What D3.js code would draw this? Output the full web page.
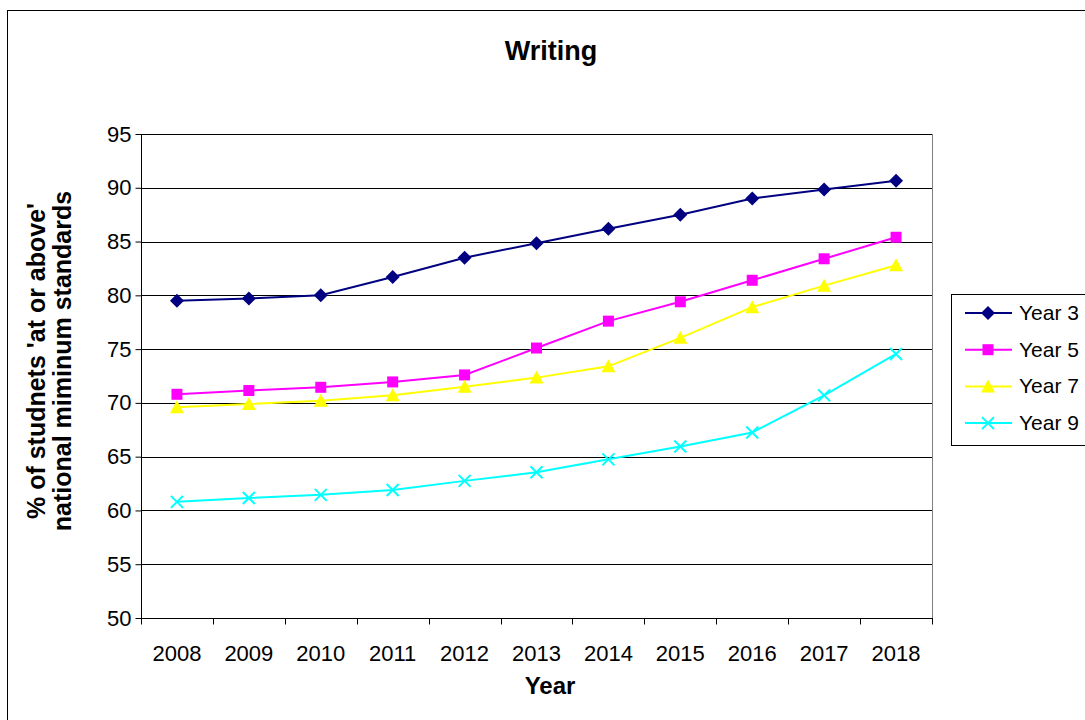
<!DOCTYPE html>
<html>
<head>
<meta charset="utf-8">
<script src="https://cdn.jsdelivr.net/npm/d3@7"></script>
<style>
  body { margin: 0; background: #fff; }
  text { font-family: "Liberation Sans", Arial, sans-serif; fill: #000; }
</style>
</head>
<body>
<div id="chart"></div>
<script>
// data
const years = ["2008", "2009", "2010", "2011", "2012", "2013", "2014", "2015", "2016", "2017", "2018"];
const year3 = [79.5, 79.7, 80.0, 81.7, 83.5, 84.85, 86.2, 87.5, 89.0, 89.85, 90.65];
const year5 = [70.8, 71.15, 71.45, 71.95, 72.6, 75.1, 77.6, 79.4, 81.4, 83.4, 85.4];
const year7 = [69.6, 69.9, 70.2, 70.7, 71.5, 72.35, 73.4, 76.05, 78.9, 80.9, 82.8];
const year9 = [60.8, 61.15, 61.45, 61.9, 62.75, 63.55, 64.75, 65.95, 67.25, 70.7, 74.55];
const yTicks = [50, 55, 60, 65, 70, 75, 80, 85, 90, 95];

const series = [
    { name: "Year 3", values: year3, color: "#000080", marker: "diamond" },
    { name: "Year 5", values: year5, color: "#FF00FF", marker: "square" },
    { name: "Year 7", values: year7, color: "#FFFF00", marker: "triangle" },
    { name: "Year 9", values: year9, color: "#00FFFF", marker: "cross" }
];

const W = 1085, H = 720;
const plot = { left: 141, top: 134, right: 932, bottom: 618 };

const svg = d3.select("#chart").append("svg")
    .attr("width", W)
    .attr("height", H);

// chart area frame
svg.append("rect")
    .attr("x", 7.5).attr("y", 10.5)
    .attr("width", W + 10).attr("height", H + 10)
    .attr("fill", "#fff")
    .attr("stroke", "#000");

// scales
const x = d3.scaleBand()
    .domain(years)
    .range([plot.left, plot.right]);

const y = d3.scaleLinear()
    .domain([50, 95])
    .range([plot.bottom, plot.top]);

// plot area border
svg.append("rect")
    .attr("x", plot.left + 0.5).attr("y", plot.top + 0.5)
    .attr("width", plot.right - plot.left).attr("height", plot.bottom - plot.top)
    .attr("fill", "none")
    .attr("stroke", "#808080");

// gridlines
svg.append("g")
    .selectAll("line")
    .data(yTicks.filter(d => d > 50))
    .join("line")
    .attr("x1", plot.left).attr("x2", plot.right)
    .attr("y1", d => Math.round(y(d)) + 0.5)
    .attr("y2", d => Math.round(y(d)) + 0.5)
    .attr("stroke", "#000")
    .attr("stroke-width", 1);

// y axis
const yAxis = d3.axisLeft(y)
    .tickValues(yTicks)
    .tickSize(6)
    .tickPadding(4);

const gy = svg.append("g")
    .attr("transform", `translate(${plot.left + 0.5},0)`)
    .call(yAxis);
gy.selectAll("text").style("font-size", "22px");
gy.selectAll("line, path").attr("stroke", "#000");
gy.select(".domain").attr("d", `M0,${plot.top}V${plot.bottom}`);

// x axis: ticks sit between categories
const gx = svg.append("g")
    .attr("transform", `translate(0,${plot.bottom + 0.5})`);

gx.append("line")
    .attr("x1", plot.left).attr("x2", plot.right + 1)
    .attr("stroke", "#000");

gx.selectAll(".tick-mark")
    .data(d3.range(years.length + 1))
    .join("line")
    .attr("class", "tick-mark")
    .attr("x1", i => Math.round(plot.left + i * x.step()) + 0.5)
    .attr("x2", i => Math.round(plot.left + i * x.step()) + 0.5)
    .attr("y1", 0).attr("y2", 6)
    .attr("stroke", "#000");

gx.selectAll(".tick-label")
    .data(years)
    .join("text")
    .attr("class", "tick-label")
    .attr("x", d => x(d) + x.bandwidth() / 2)
    .attr("y", 42)
    .attr("text-anchor", "middle")
    .style("font-size", "22px")
    .text(d => d);

// lines + markers
const line = d3.line()
    .x((d, i) => x(years[i]) + x.bandwidth() / 2)
    .y(d => y(d));

function drawMarker(g, type, color) {
    if (type === "diamond") {
        g.append("path").attr("d", "M0,-7L7,0L0,7L-7,0Z").attr("fill", color);
    } else if (type === "square") {
        g.append("rect").attr("x", -5.5).attr("y", -5.5).attr("width", 11).attr("height", 11).attr("fill", color);
    } else if (type === "triangle") {
        g.append("path").attr("d", "M0,-7L7,6L-7,6Z").attr("fill", color);
    } else {
        g.append("path").attr("d", "M-6,-6L6,6M-6,6L6,-6")
            .attr("stroke", color).attr("stroke-width", 2).attr("fill", "none");
    }
}

series.forEach(s => {
    svg.append("path")
        .datum(s.values)
        .attr("d", line)
        .attr("fill", "none")
        .attr("stroke", s.color)
        .attr("stroke-width", 2);

    svg.append("g")
        .selectAll("g")
        .data(s.values)
        .join("g")
        .attr("transform", (d, i) => `translate(${x(years[i]) + x.bandwidth() / 2},${y(d)})`)
        .each(function() { drawMarker(d3.select(this), s.marker, s.color); });
});

// title
svg.append("text")
    .attr("x", 551).attr("y", 60)
    .attr("text-anchor", "middle")
    .style("font-size", "27px")
    .style("font-weight", "bold")
    .text("Writing");

// axis titles
svg.append("text")
    .attr("x", 550).attr("y", 694)
    .attr("text-anchor", "middle")
    .style("font-size", "24px")
    .style("font-weight", "bold")
    .text("Year");

const yTitle = svg.append("text")
    .attr("transform", "translate(0,361) rotate(-90)")
    .attr("text-anchor", "middle")
    .style("font-size", "25px")
    .style("font-weight", "bold");
yTitle.append("tspan").attr("x", 0).attr("y", 45).text("% of studnets 'at or above'");
yTitle.append("tspan").attr("x", 0).attr("y", 71).text("national miminum standards");

// legend
const legend = svg.append("g");
legend.append("rect")
    .attr("x", 951.5).attr("y", 294.5)
    .attr("width", 150).attr("height", 151)
    .attr("fill", "#fff")
    .attr("stroke", "#000");

const lg = legend.selectAll("g")
    .data(series)
    .join("g")
    .attr("transform", (d, i) => `translate(0,${313 + i * 36.7})`);

lg.append("line")
    .attr("x1", 965).attr("x2", 1012)
    .attr("stroke", d => d.color)
    .attr("stroke-width", 2);

lg.append("g")
    .attr("transform", "translate(988,0)")
    .each(function(d) { drawMarker(d3.select(this), d.marker, d.color); });

lg.append("text")
    .attr("x", 1019).attr("y", 7)
    .style("font-size", "21px")
    .text(d => d.name);
</script>
</body>
</html>
